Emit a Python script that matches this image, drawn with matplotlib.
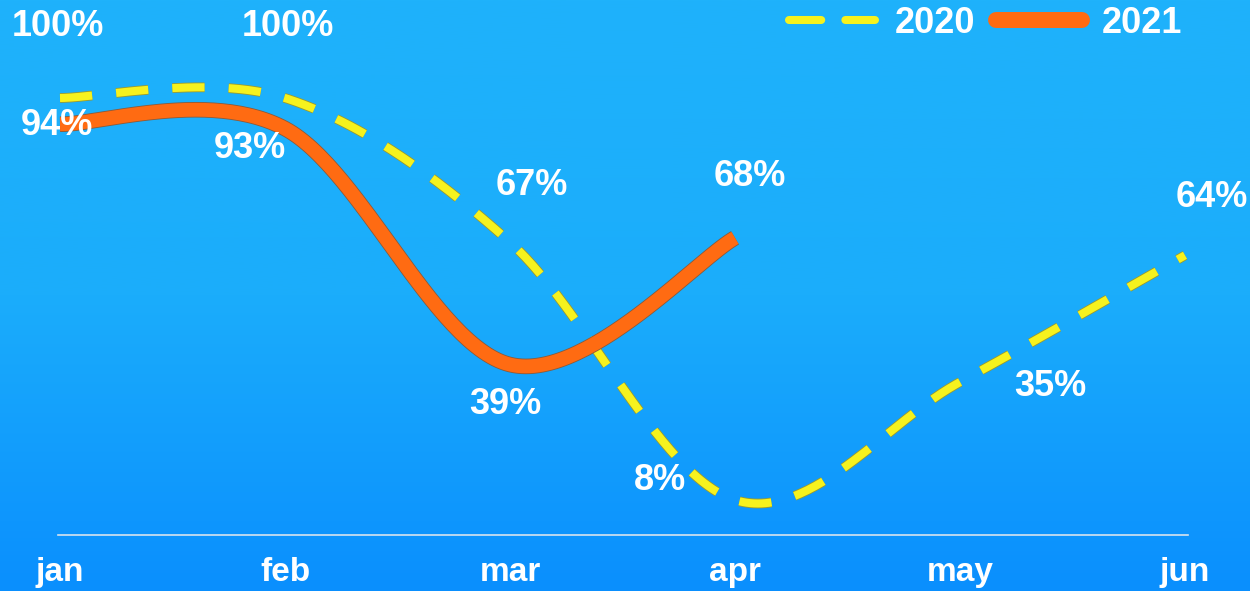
import numpy as np
import matplotlib
matplotlib.use("Agg")
import matplotlib.pyplot as plt
import matplotlib.patheffects as pe
from matplotlib.lines import Line2D
from matplotlib.colors import LinearSegmentedColormap

# datos
meses = ["jan", "feb", "mar", "apr", "may", "jun"]
valores_2020 = [100, 100, 67, 8, 35, 64]
valores_2021 = [94, 93, 39, 68]

# posiciones de las etiquetas (offset en pixeles)
offsets_2020 = [(-2, 71), (3, 71), (22, 57), (-75, 20), (90, -4), (27, 58)]
offsets_2021 = [(-3, -1), (-35, -20), (-5, -40), (15, 61)]


def suavizar(y, n=60):
    # curva suave tipo Excel (bezier con tangentes de Catmull-Rom)
    y = np.asarray(y, dtype=float)
    x = np.arange(len(y), dtype=float)
    xs, ys = [], []
    for i in range(len(y) - 1):
        p0 = np.array([x[i], y[i]])
        p3 = np.array([x[i + 1], y[i + 1]])
        pa = np.array([x[i - 1], y[i - 1]]) if i > 0 else p0
        pb = np.array([x[i + 2], y[i + 2]]) if i + 2 < len(y) else p3
        p1 = p0 + (p3 - pa) / 6
        p2 = p3 - (pb - p0) / 6
        t = np.linspace(0, 1, n)[:, None]
        pts = ((1 - t) ** 3) * p0 + 3 * ((1 - t) ** 2) * t * p1 + 3 * (1 - t) * t ** 2 * p2 + t ** 3 * p3
        xs.extend(pts[:, 0])
        ys.extend(pts[:, 1])
    return np.array(xs), np.array(ys)


fig = plt.figure(figsize=(12.5, 5.91), dpi=100)

# fondo degradado
bg = fig.add_axes([0, 0, 1, 1], zorder=-10)
cmap = LinearSegmentedColormap.from_list("fondo", ["#0a8ffe", "#1badfb", "#1fb2fb"])
bg.imshow(np.linspace(0, 1, 256)[:, None], aspect="auto", cmap=cmap, origin="lower",
          extent=[0, 1, 0, 1])
bg.axis("off")

W, H = 1250, 591
ax = fig.add_axes([58 / W, 56 / H, 1130 / W, 535 / H])
ax.patch.set_alpha(0)
ax.set_xlim(-2 / 225, 1128 / 225)
ax.set_ylim(0, 100 + 98 / 4.37)

amarillo = "#f6f21e"
naranja = "#ff6b12"

x20, y20 = suavizar(valores_2020)
ax.plot(x20, y20, color=amarillo, lw=5.8, dashes=(4, 3), dash_capstyle="butt",
        clip_on=False,
        path_effects=[pe.Stroke(linewidth=7, foreground="#9a9a30"), pe.Normal()])

x21, y21 = suavizar(valores_2021)
ax.plot(x21, y21, color=naranja, lw=10, solid_capstyle="butt", clip_on=False,
        path_effects=[pe.Stroke(linewidth=11.2, foreground="#8a5a3a"), pe.Normal()])

for i, v in enumerate(valores_2020):
    ax.annotate(f"{v}%", (i, v), xytext=offsets_2020[i], textcoords="offset pixels",
                ha="center", va="center", color="white", fontsize=26, fontweight="bold",
                family="Liberation Sans", annotation_clip=False)
for i, v in enumerate(valores_2021):
    ax.annotate(f"{v}%", (i, v), xytext=offsets_2021[i], textcoords="offset pixels",
                ha="center", va="center", color="white", fontsize=26, fontweight="bold",
                family="Liberation Sans", annotation_clip=False)

ax.set_xticks(range(len(meses)))
ax.set_xticklabels(meses, color="white", fontsize=24, fontweight="bold",
                   family="Liberation Sans")
ax.tick_params(axis="x", length=0, pad=16)
ax.set_yticks([])
for s in ["top", "left", "right"]:
    ax.spines[s].set_visible(False)
ax.spines["bottom"].set_color("#d8e4ee")
ax.spines["bottom"].set_linewidth(1.2)

handles = [
    Line2D([], [], color=amarillo, lw=5.8, dashes=(4, 3), dash_capstyle="round"),
    Line2D([], [], color=naranja, lw=11.5, solid_capstyle="round"),
]
leg = fig.legend(handles, ["2020", "2021"], loc="upper right", bbox_to_anchor=(0.972, 1.045),
                 ncol=2, frameon=False, handlelength=2.4, handletextpad=0.55,
                 columnspacing=0.55, prop={"family": "Liberation Sans", "weight": "bold", "size": 26})
for t in leg.get_texts():
    t.set_color("white")

fig.savefig("out.png", dpi=100)
